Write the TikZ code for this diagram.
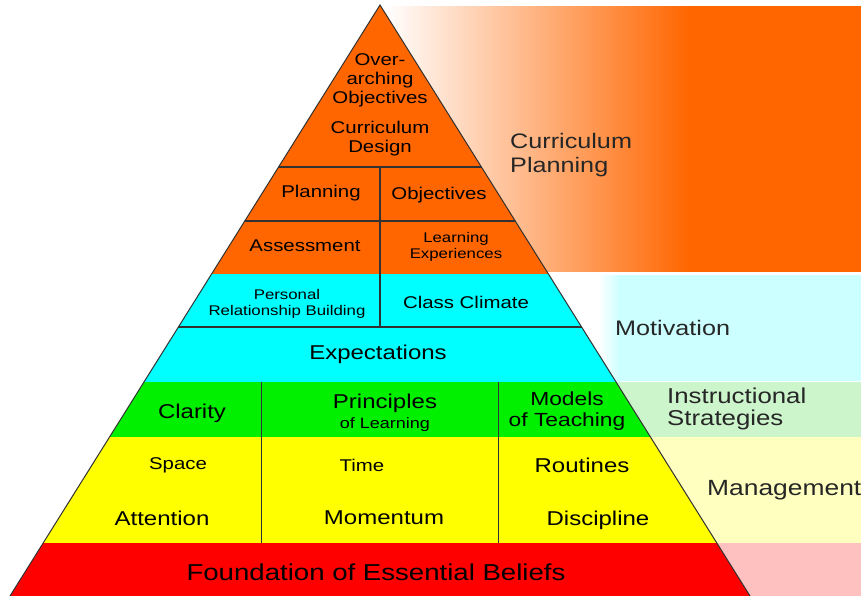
\documentclass[tikz,border=0pt]{standalone}
\usepackage{fontspec}
\setmainfont{Liberation Sans}[FakeStretch=1.2]
\usetikzlibrary{calc}
\definecolor{planorange}{RGB}{255,102,0}
\definecolor{motivcyan}{RGB}{0,255,255}
\definecolor{instrgreen}{RGB}{0,240,0}
\definecolor{mgmtyellow}{RGB}{255,255,0}
\definecolor{basered}{RGB}{255,0,0}
\definecolor{lightcyan}{RGB}{204,255,255}
\definecolor{lightgreen}{RGB}{204,245,204}
\definecolor{lightyellow}{RGB}{255,255,192}
\definecolor{lightpink}{RGB}{255,192,192}
\definecolor{rule}{RGB}{50,50,50}
% white to orange, full orange from about x=690 on
\pgfdeclarehorizontalshading{planfade}{100bp}{color(0bp)=(white); color(25bp)=(white); color(57bp)=(planorange); color(100bp)=(planorange)}

\begin{document}
\begin{tikzpicture}[
    x=1pt, y=-1pt,
    edge/.style={draw=rule, line width=1.3pt},
    thinedge/.style={draw=rule, line width=1pt},
    lbl/.style={font=\fontsize{20}{21}\selectfont, align=center, inner sep=0pt},
    lblm/.style={font=\fontsize{17}{19}\selectfont, align=center, inner sep=0pt},
    lbls/.style={font=\fontsize{14}{16}\selectfont, align=center, inner sep=0pt},
    side/.style={font=\fontsize{21}{23}\selectfont, align=left, anchor=west, inner sep=0pt, text=black!85}
]
\useasboundingbox (0,0) rectangle (861,596);

% Bands on the right
\shade[shading=planfade] (385,7) rectangle (861,271);
\shade[left color=white, right color=lightcyan] (598,275) rectangle (620,381);
\fill[lightcyan] (619,275) rectangle (861,381);
\fill[lightgreen] (560,382) rectangle (861,437);
\fill[lightyellow] (600,437) rectangle (861,543);
\fill[lightpink] (650,543) rectangle (861,596);

% Pyramid
\coordinate (apex) at (380,5);
\coordinate (bl) at (10,596);
\coordinate (br) at (750,596);

\begin{scope}
  \clip (apex) -- (bl) -- (br) -- cycle;
  \fill[planorange] (0,0) rectangle (861,274);
  \fill[motivcyan] (0,274) rectangle (861,382);
  \fill[instrgreen] (0,382) rectangle (861,437);
  \fill[mgmtyellow] (0,437) rectangle (861,543);
  \fill[basered] (0,543) rectangle (861,596);
  \draw[edge] (0,167) -- (861,167);
  \draw[edge] (0,221) -- (861,221);
  \draw[edge] (0,327) -- (861,327);
  \draw[edge] (380,167) -- (380,327);
  \draw[thinedge] (261,382) -- (261,543);
  \draw[thinedge] (498,382) -- (498,543);
\end{scope}
\draw[thinedge, line join=miter] (bl) -- (apex) -- (br);

% Curriculum planning
\node[lblm] (overarch) at (380,80) {Over-\\arching\\Objectives};
\node[lblm] (currdesign) at (380,139) {Curriculum\\Design};
\node[lblm] (planning) at (321,193) {Planning};
\node[lblm] (objectives) at (439,195) {Objectives};
\node[lblm] (assess) at (305,246) {Assessment};
\node[lbls] (learnexp) at (456,247) {Learning\\Experiences};

% Motivation
\node[lbls] (personal) at (287,304) {Personal\\Relationship Building};
\node[lblm] (climate) at (466,302) {Class Climate};
\node[lbl] (expect) at (378,354) {Expectations};

% Instructional strategies
\node[lbl] (clarity) at (192,413) {Clarity};
\node[lbl, font=\fontsize{20}{20}\selectfont] (principles) at (385,413) {Principles\\{\fontsize{15}{15}\selectfont of Learning}};
\node[lbl, font=\fontsize{19}{21}\selectfont] (models) at (567,411) {Models\\of Teaching};

% Management
\node[lblm] (space) at (178,465) {Space};
\node[lblm] (time) at (362,465) {Time};
\node[lbl] (routines) at (582,465) {Routines};
\node[lbl] (attention) at (162,518) {Attention};
\node[lbl] (momentum) at (384,518) {Momentum};
\node[lbl] (discipline) at (598,520) {Discipline};

% Foundation
\node[lbl, font=\fontsize{23}{25}\selectfont] (foundation) at (376,572) {Foundation of Essential Beliefs};

% Side labels
\node[side, font=\fontsize{21}{24}\selectfont] (curplan) at (510,155) {Curriculum\\Planning};
\node[side] (motiv) at (615,328) {Motivation};
\node[side, font=\fontsize{21.5}{22}\selectfont] (instr) at (667,409) {Instructional\\Strategies};
\node[side, font=\fontsize{22}{23}\selectfont] (manage) at (707,490) {Management};

\end{tikzpicture}
\end{document}
